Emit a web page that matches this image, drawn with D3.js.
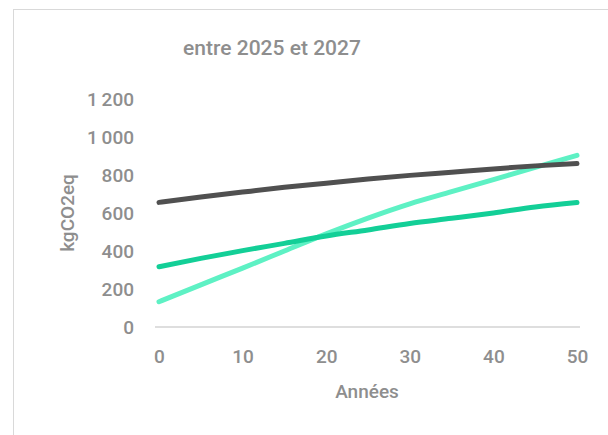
<!DOCTYPE html>
<html>
<head>
<meta charset="utf-8">
<script src="https://cdn.jsdelivr.net/npm/d3@7"></script>
<style>
  html, body { margin: 0; padding: 0; background: #ffffff; }
  svg { display: block; }
  text { font-family: Roboto, "DejaVu Sans Condensed", sans-serif; font-weight: 500; fill: #8e8e8e; }
</style>
</head>
<body>
<svg id="chart" width="608" height="435"></svg>
<script>
// Years since installation
const years = [0, 5, 10, 15, 20, 25, 30, 35, 40, 45, 50];
// Cumulative emissions (kgCO2eq) for each scenario
const seriesDark   = [656, 684, 710, 735, 757, 779, 798, 815, 832, 848, 860];
const seriesMedium = [317, 361, 402, 440, 479, 511, 545, 572, 600, 632, 655];
const seriesLight  = [133, 222, 310, 400, 490, 573, 648, 712, 776, 840, 903];
const yTicks = [0, 200, 400, 600, 800, 1000, 1200];
const xTicks = [0, 10, 20, 30, 40, 50];
const title = "entre 2025 et 2027";
const xTitle = "Années";
const yTitle = "kgCO2eq";

const svg = d3.select("#chart");
const fontStack = "Roboto, \"DejaVu Sans Condensed\", sans-serif";

// chart frame (continues past the right and bottom edges)
svg.append("rect")
  .attr("x", 13.5).attr("y", 9.5)
  .attr("width", 640).attr("height", 460)
  .attr("fill", "#ffffff")
  .attr("stroke", "#d9d9d9").attr("stroke-width", 1);

const x = d3.scaleLinear().domain([0, 50]).range([159, 577]);
const y = d3.scaleLinear().domain([0, 1200]).range([327, 99]);

// title
svg.append("text")
  .attr("x", 272).attr("y", 55)
  .attr("text-anchor", "middle")
  .style("font-size", "21px")
  .text(title);

// y axis labels
const yAxis = d3.axisLeft(y)
  .tickValues(yTicks)
  .tickSize(0)
  .tickPadding(0)
  .tickFormat(d => d3.format(",")(d).replace(",", "\u2009"));
const gy = svg.append("g").attr("transform", "translate(134,0)").call(yAxis);
gy.select(".domain").remove();
gy.selectAll("text")
  .attr("dy", "0.36em")
  .style("font-size", "19px")
  .style("font-weight", 500)
  .style("fill", "#8e8e8e")
  .style("font-family", fontStack);

// x axis baseline and labels
svg.append("line")
  .attr("x1", 155).attr("x2", 580)
  .attr("y1", y(0)).attr("y2", y(0))
  .attr("stroke", "#dedede").attr("stroke-width", 2);

const xAxis = d3.axisBottom(x)
  .tickValues(xTicks)
  .tickSize(0)
  .tickPadding(0)
  .tickFormat(d3.format("d"));
const gx = svg.append("g").attr("transform", "translate(0,349)").call(xAxis);
gx.select(".domain").remove();
gx.selectAll("text")
  .attr("dy", "0.71em")
  .style("font-size", "19px")
  .style("font-weight", 500)
  .style("fill", "#8e8e8e")
  .style("font-family", fontStack);

// axis titles
svg.append("text")
  .attr("x", 367).attr("y", 398)
  .attr("text-anchor", "middle")
  .style("font-size", "19px")
  .text(xTitle);

svg.append("text")
  .attr("transform", "translate(74,213) rotate(-90)")
  .attr("text-anchor", "middle")
  .style("font-size", "19px")
  .text(yTitle);

// lines
const line = d3.line()
  .x((d, i) => x(years[i]))
  .y(d => y(d))
  .curve(d3.curveMonotoneX);

const series = [
  { values: seriesLight,  color: "#5ef1c4" },
  { values: seriesMedium, color: "#13cf97" },
  { values: seriesDark,   color: "#505050" }
];

svg.append("g").selectAll("path")
  .data(series)
  .join("path")
  .attr("d", d => line(d.values))
  .attr("fill", "none")
  .attr("stroke", d => d.color)
  .attr("stroke-width", 5)
  .attr("stroke-linecap", "round")
  .attr("stroke-linejoin", "round");
</script>
</body>
</html>
